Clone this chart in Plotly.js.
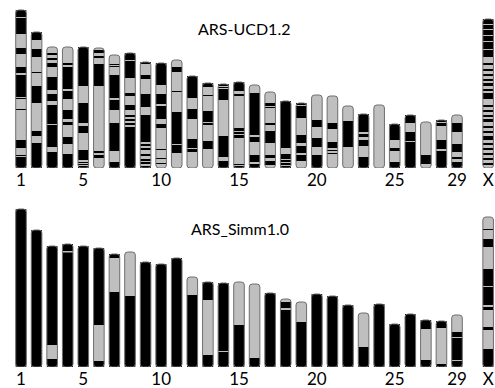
<!DOCTYPE html>
<html>
<head>
<meta charset="utf-8">
<script src="https://cdn.plot.ly/plotly-3.0.1.min.js"></script>
<style>html,body{margin:0;padding:0;background:#fff;}#chart{width:495px;height:388px;}</style>
</head>
<body>
<div id="chart"></div>
<script>
// Chromosome names and positions on the x axis (X sits after a one-slot gap)
const chromNames = ['1','2','3','4','5','6','7','8','9','10','11','12','13','14','15','16','17','18','19','20','21','22','23','24','25','26','27','28','29','X'];
const chromPos = [1,2,3,4,5,6,7,8,9,10,11,12,13,14,15,16,17,18,19,20,21,22,23,24,25,26,27,28,29,31];
const tickPos = [1,5,10,15,20,25,29,31];
const tickLabels = ['1','5','10','15','20','25','29','X'];

const panelTitles = ['ARS-UCD1.2', 'ARS_Simm1.0'];

// Chromosome lengths (drawing units)
const ucdLengths  = [158,136,121,121,121,120,113,115,106,105,108,92,85,84,86,83,76,67,65,73,72,62,54,63,44,53,46,48,53,149];
const simmLengths = [158,137,121,123,121,119,113,115,105,103,109,90,85,84,85,83,74,68,65,73,71,62,54,63,43,53,47,46,52,150];

// Black bands [start, end] measured from the top of each chromosome; the rest is grey
const ucdBlack = [
  [[0,7],[8,24],[38,44],[57,63],[65,87],[88,89],[99,100],[130,138],[145,146],[147,158]],
  [[0,8],[17,25],[40,41],[54,71],[99,104],[111,136]],
  [[6,8],[11,13],[16,20],[30,43],[47,54],[58,77],[78,100],[105,121]],
  [[16,18],[20,42],[44,52],[63,72],[75,78],[90,97],[107,121]],
  [[0,39],[56,76],[79,86],[103,113],[115,116],[117,118],[119,121]],
  [[2,5],[8,10],[16,38],[103,105],[107,110]],
  [[9,10],[11,12],[20,43],[45,55],[68,96],[107,113]],
  [[0,7],[8,25],[40,43],[52,57],[62,64],[66,68],[70,72],[74,115]],
  [[0,2],[13,17],[32,45],[53,80],[82,84],[86,88],[92,94],[97,99],[100,102],[104,106]],
  [[0,22],[31,41],[43,56],[61,65],[86,87],[95,96],[100,101]],
  [[7,12],[31,32],[52,84],[85,93]],
  [[0,22],[33,43],[63,72],[73,76]],
  [[0,4],[12,13],[28,39],[40,42],[58,66]],
  [[0,2],[3,4],[5,16],[52,73],[77,84]],
  [[0,9],[12,14],[46,49],[50,52],[53,56],[82,83],[84,86]],
  [[8,50],[52,57],[70,77],[79,83]],
  [[11,14],[15,16],[31,33],[39,51],[63,66],[69,73]],
  [[0,47],[53,58],[59,61],[62,64],[65,67]],
  [[0,2],[3,15],[32,40],[43,50],[52,58]],
  [[25,32],[43,52],[60,73]],
  [[27,33],[46,52],[54,55],[57,58]],
  [[15,41]],
  [[0,18],[20,23],[26,32],[43,54]],
  [],
  [[0,16],[24,27],[38,44]],
  [[0,8],[17,26],[27,53]],
  [[33,42]],
  [[0,2],[3,6],[20,29],[31,48]],
  [[8,17],[29,37],[42,44],[47,53]],
  [[0,5],[6,10],[11,16],[17,22],[23,30],[31,38],[44,46],[50,52],[55,57],[60,62],[64,67],[70,72],[74,80],[86,88],[91,93],[96,98],[100,103],[107,109],[112,114],[117,121],[124,126],[129,131],[134,136],[139,141],[144,146]]
];

const simmBlack = [
  [[0,158]],
  [[0,137]],
  [[0,99],[113,121]],
  [[0,7],[8.5,123]],
  [[0,121]],
  [[0,77],[113,119]],
  [[0,4],[38,113]],
  [[44,115]],
  [[0,105]],
  [[0,103]],
  [[0,109]],
  [[18,90]],
  [[0,18],[73,85]],
  [[0,68],[69,84]],
  [[43,85]],
  [[74,83]],
  [[0,74]],
  [[3,9],[11,68]],
  [[20,65]],
  [[0,73]],
  [[0,71]],
  [[0,62]],
  [[34,54]],
  [[0,63]],
  [[0,43]],
  [[0,53]],
  [[0,9],[40,47]],
  [[0,7],[43,46]],
  [[17,22],[23,45],[46,52]],
  [[12,13],[22,30],[52,69],[70,88],[90,93],[110,113],[132,150]]
];

const GREY = '#bfbfbf';
const BLACK = '#000000';
const OUTLINE = '#6e6e6e';
const BAR_W = 0.68;

function panelTraces(lengths, bands, xa, ya) {
  const bg = {
    type: 'bar', x: chromPos, y: lengths, base: chromPos.map(() => 0),
    width: BAR_W, marker: {color: GREY, line: {width: 0}, cornerradius: 3},
    xaxis: xa, yaxis: ya, hoverinfo: 'skip'
  };
  const bx = [], by = [], bb = [];
  bands.forEach((list, i) => {
    const L = lengths[i];
    list.forEach(([s, e]) => {
      bx.push(chromPos[i]);
      by.push(e - s);
      bb.push(L - e);
    });
  });
  const blk = {
    type: 'bar', x: bx, y: by, base: bb, width: BAR_W,
    marker: {color: BLACK, line: {width: 0}},
    xaxis: xa, yaxis: ya, hoverinfo: 'skip'
  };
  const outline = {
    type: 'bar', x: chromPos, y: lengths, base: chromPos.map(() => 0),
    width: BAR_W, marker: {color: 'rgba(0,0,0,0)', line: {width: 1, color: OUTLINE}, cornerradius: 3},
    xaxis: xa, yaxis: ya, hoverinfo: 'skip'
  };
  return [bg, blk, outline];
}

const data = [].concat(
  panelTraces(ucdLengths, ucdBlack, 'x', 'y'),
  panelTraces(simmLengths, simmBlack, 'x2', 'y2')
);

const xCommon = {
  domain: [0, 1], range: [-0.349, 31.44],
  tickmode: 'array', tickvals: tickPos, ticktext: tickLabels,
  showgrid: false, zeroline: false, showline: false, ticks: '',
  tickfont: {family: 'Lato, "Open Sans", sans-serif', size: 17, color: '#000'},
  fixedrange: true
};

const layout = {
  width: 495, height: 388,
  margin: {l: 0, r: 0, t: 0, b: 0},
  paper_bgcolor: '#ffffff', plot_bgcolor: '#ffffff',
  showlegend: false, barmode: 'overlay',
  xaxis: Object.assign({}, xCommon, {anchor: 'y'}),
  yaxis: {domain: [1 - 168/388, 1], range: [0, 168], visible: false, fixedrange: true},
  xaxis2: Object.assign({}, xCommon, {anchor: 'y2'}),
  yaxis2: {domain: [21/388, 193/388], range: [0, 172], visible: false, fixedrange: true},
  annotations: [
    {text: panelTitles[0], xref: 'paper', yref: 'paper', x: 244/495, y: 1 - 29/388,
     xanchor: 'center', yanchor: 'middle', showarrow: false,
     font: {family: 'Lato, "Open Sans", sans-serif', size: 16, color: '#000'}},
    {text: panelTitles[1], xref: 'paper', yref: 'paper', x: 240/495, y: 1 - 228/388,
     xanchor: 'center', yanchor: 'middle', showarrow: false,
     font: {family: 'Lato, "Open Sans", sans-serif', size: 16, color: '#000'}}
  ]
};

Plotly.newPlot('chart', data, layout, {staticPlot: true, displayModeBar: false});
</script>
</body>
</html>
